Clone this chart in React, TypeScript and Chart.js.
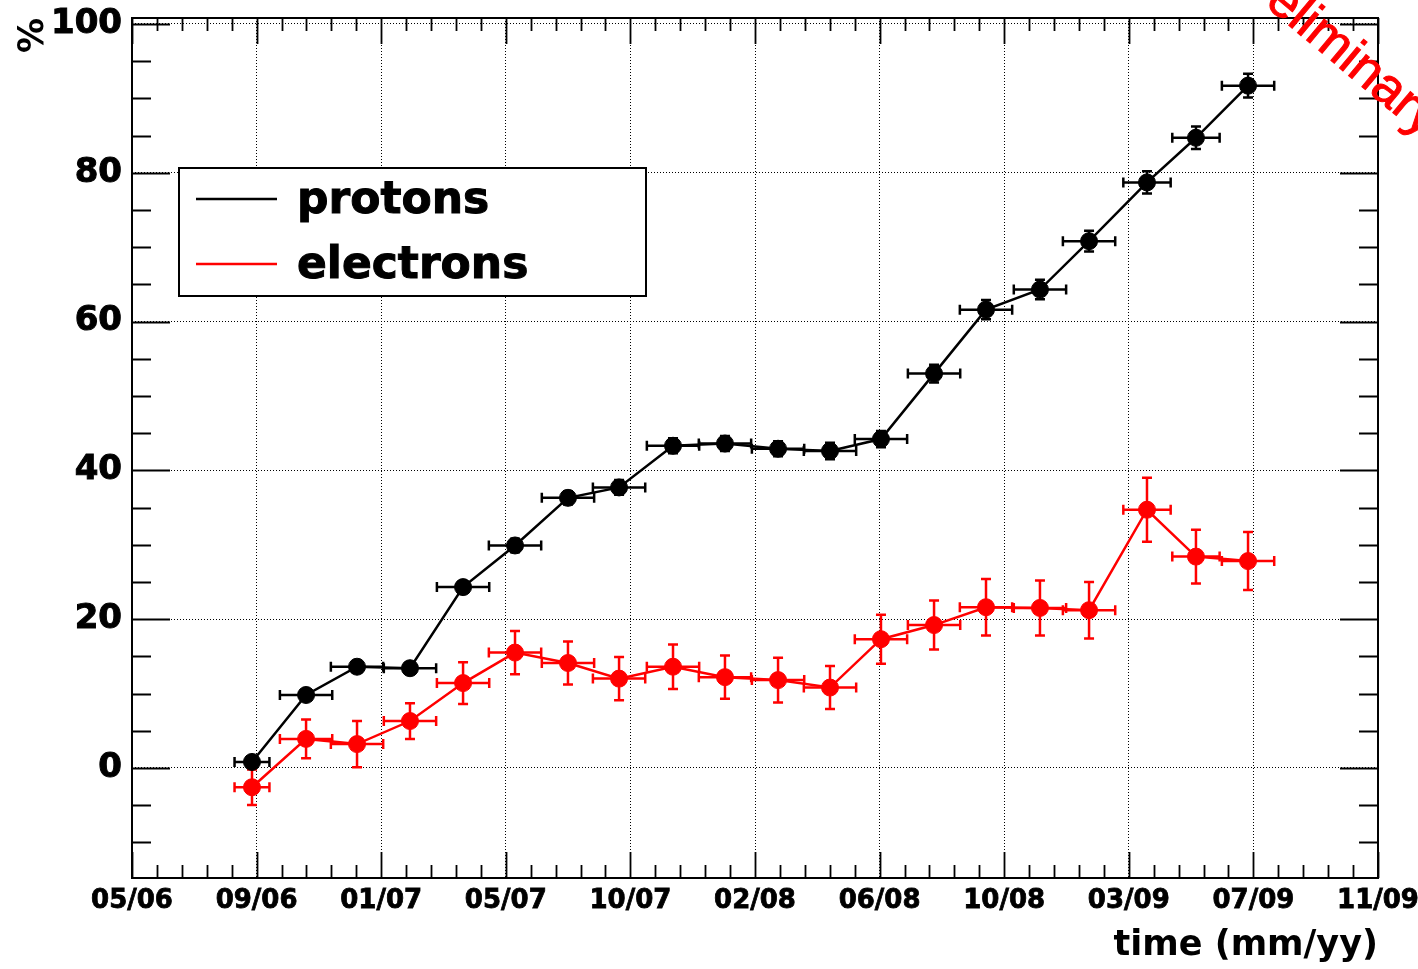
import React, { useEffect, useRef } from "react";
import { Chart, registerables } from "chart.js";

Chart.register(...registerables);

// ---- data ----
const xTickValues = [0, 1, 2, 3, 4, 5, 6, 7, 8, 9, 10];
const xTickLabels = ["05/06", "09/06", "01/07", "05/07", "10/07", "02/08", "06/08", "10/08", "03/09", "07/09", "11/09"];
const yTickValues = [0, 20, 40, 60, 80, 100];

// time position of each measurement (in axis-division units) and its half width
const timePos = [0.963, 1.397, 1.806, 2.231, 2.657, 3.074, 3.499, 3.909, 4.342, 4.759, 5.185, 5.602, 6.011, 6.437, 6.854, 7.287, 7.681, 8.146, 8.539, 8.957];
const timeErr = [0.14, 0.21, 0.21, 0.21, 0.21, 0.21, 0.21, 0.21, 0.21, 0.21, 0.21, 0.21, 0.21, 0.21, 0.21, 0.21, 0.21, 0.19, 0.19, 0.21];

const protons = [0.8, 9.8, 13.6, 13.4, 24.3, 29.9, 36.3, 37.7, 43.3, 43.6, 42.9, 42.6, 44.2, 53.0, 61.6, 64.3, 70.8, 78.7, 84.7, 91.7];
const protonsErr = [0.5, 0.6, 0.8, 0.8, 0.8, 0.9, 0.9, 1.0, 1.0, 1.0, 1.0, 1.1, 1.1, 1.2, 1.3, 1.3, 1.4, 1.5, 1.5, 1.6];

const electrons = [-2.6, 3.9, 3.2, 6.3, 11.4, 15.5, 14.1, 12.0, 13.6, 12.2, 11.8, 10.8, 17.3, 19.2, 21.6, 21.5, 21.2, 34.7, 28.4, 27.8];
const electronsErr = [2.4, 2.6, 3.1, 2.4, 2.8, 2.9, 2.9, 2.9, 3.0, 2.9, 3.0, 2.9, 3.3, 3.3, 3.8, 3.7, 3.8, 4.3, 3.6, 3.9];

const seriesNames = ["protons", "electrons"];
const seriesColors = ["#000000", "#ff0000"];

const FONT = "DejaVu Sans";

function makePoints(ys: number[], yErr: number[]) {
  return ys.map((y, i) => ({ x: timePos[i], y, xErr: timeErr[i], yErr: yErr[i] }));
}

const rootPlugin = {
  id: "rootStyle",
  beforeDatasetsDraw(chart: any) {
    const ctx = chart.ctx as CanvasRenderingContext2D;
    const area = chart.chartArea;
    const xs = chart.scales.x;
    const ys = chart.scales.y;

    // legend box (inside plot)
    const lx = area.left + 47;
    const ly = area.top + 150;
    const lw = 467;
    const lh = 128;
    ctx.save();
    ctx.fillStyle = "#ffffff";
    ctx.fillRect(lx, ly, lw, lh);
    ctx.lineWidth = 2;
    ctx.strokeStyle = "#000000";
    ctx.strokeRect(lx, ly, lw, lh);
    chart.data.datasets.forEach((ds: any, i: number) => {
      const rowY = ly + 31 + i * 65;
      ctx.strokeStyle = ds.borderColor;
      ctx.lineWidth = 2.5;
      ctx.beginPath();
      ctx.moveTo(lx + 17, rowY);
      ctx.lineTo(lx + 98, rowY);
      ctx.stroke();
      ctx.fillStyle = "#000000";
      ctx.strokeStyle = "#000000";
      ctx.lineWidth = 1;
      ctx.font = `bold 44px "${FONT}"`;
      ctx.textAlign = "left";
      ctx.textBaseline = "alphabetic";
      ctx.fillText(ds.label, lx + 118, rowY + 14);
      ctx.strokeText(ds.label, lx + 118, rowY + 14);
    });
    ctx.restore();

    // error bars
    chart.data.datasets.forEach((ds: any) => {
      ctx.save();
      ctx.strokeStyle = ds.borderColor;
      ctx.lineWidth = 2.5;
      const cap = 5;
      ds.data.forEach((p: any) => {
        const px = xs.getPixelForValue(p.x);
        const py = ys.getPixelForValue(p.y);
        const x0 = xs.getPixelForValue(p.x - p.xErr);
        const x1 = xs.getPixelForValue(p.x + p.xErr);
        const y0 = ys.getPixelForValue(p.y - p.yErr);
        const y1 = ys.getPixelForValue(p.y + p.yErr);
        ctx.beginPath();
        ctx.moveTo(x0, py);
        ctx.lineTo(x1, py);
        ctx.moveTo(x0, py - cap);
        ctx.lineTo(x0, py + cap);
        ctx.moveTo(x1, py - cap);
        ctx.lineTo(x1, py + cap);
        ctx.moveTo(px, y0);
        ctx.lineTo(px, y1);
        ctx.moveTo(px - cap, y0);
        ctx.lineTo(px + cap, y0);
        ctx.moveTo(px - cap, y1);
        ctx.lineTo(px + cap, y1);
        ctx.stroke();
      });
      ctx.restore();
    });
  },
  afterDraw(chart: any) {
    const ctx = chart.ctx as CanvasRenderingContext2D;
    const area = chart.chartArea;
    const xs = chart.scales.x;
    const ys = chart.scales.y;
    ctx.save();
    ctx.strokeStyle = "#000000";
    ctx.lineWidth = 1.8;
    ctx.beginPath();
    // x ticks (bottom and top), inward
    for (let i = 0; i < xTickValues.length; i++) {
      const v = xTickValues[i];
      const px = Math.round(xs.getPixelForValue(v)) + 0.5;
      ctx.moveTo(px, area.bottom);
      ctx.lineTo(px, area.bottom - 26);
      ctx.moveTo(px, area.top);
      ctx.lineTo(px, area.top + 26);
      if (i < xTickValues.length - 1) {
        for (let k = 1; k < 5; k++) {
          const mv = v + (k * (xTickValues[i + 1] - v)) / 5;
          const mx = Math.round(xs.getPixelForValue(mv)) + 0.5;
          ctx.moveTo(mx, area.bottom);
          ctx.lineTo(mx, area.bottom - 13);
          ctx.moveTo(mx, area.top);
          ctx.lineTo(mx, area.top + 13);
        }
      }
    }
    // y ticks (left and right), inward
    const yMajorStep = yTickValues[1] - yTickValues[0];
    const yMinorStep = yMajorStep / 4;
    for (let v = yTickValues[0] - yMajorStep; v <= ys.max + 0.001; v += yMinorStep) {
      if (v < ys.min) continue;
      const isMajor = Math.abs(v / yMajorStep - Math.round(v / yMajorStep)) < 1e-6;
      const len = isMajor ? 38 : 19;
      const py = Math.round(ys.getPixelForValue(v)) + 0.5;
      ctx.moveTo(area.left, py);
      ctx.lineTo(area.left + len, py);
      ctx.moveTo(area.right, py);
      ctx.lineTo(area.right - len, py);
    }
    ctx.stroke();
    // frame
    ctx.lineWidth = 2;
    ctx.strokeRect(area.left, area.top, area.right - area.left, area.bottom - area.top);
    ctx.restore();

    // Preliminary stamp
    ctx.save();
    ctx.translate(area.right - 154, area.top - 47);
    ctx.rotate((40 * Math.PI) / 180);
    ctx.fillStyle = "#ff0000";
    ctx.strokeStyle = "#ff0000";
    ctx.lineWidth = 1;
    ctx.font = `52px "Liberation Sans"`;
    ctx.textAlign = "left";
    ctx.textBaseline = "alphabetic";
    ctx.fillText("Preliminary", 0, 0);
    ctx.strokeText("Preliminary", 0, 0);
    ctx.restore();
  },
};

export default function App() {
  const canvasRef = useRef<HTMLCanvasElement | null>(null);

  useEffect(() => {
    const canvas = canvasRef.current;
    if (!canvas) return;
    const chart = new Chart(canvas, {
      type: "scatter",
      data: {
        datasets: [
          {
            label: seriesNames[0],
            data: makePoints(protons, protonsErr),
            showLine: true,
            borderColor: seriesColors[0],
            backgroundColor: seriesColors[0],
            borderWidth: 2.5,
            pointRadius: 8.5,
            pointBorderWidth: 1,
            pointBackgroundColor: seriesColors[0],
            pointBorderColor: seriesColors[0],
            tension: 0,
          },
          {
            label: seriesNames[1],
            data: makePoints(electrons, electronsErr),
            showLine: true,
            borderColor: seriesColors[1],
            backgroundColor: seriesColors[1],
            borderWidth: 2.5,
            pointRadius: 8.5,
            pointBorderWidth: 1,
            pointBackgroundColor: seriesColors[1],
            pointBorderColor: seriesColors[1],
            tension: 0,
          },
        ],
      },
      options: {
        animation: false,
        responsive: false,
        maintainAspectRatio: false,
        layout: { padding: { top: 18, right: 40, left: 0, bottom: 0 } },
        plugins: {
          legend: { display: false },
          tooltip: { enabled: false },
        },
        scales: {
          x: {
            type: "linear",
            min: 0,
            max: 10,
            afterBuildTicks: (s: any) => {
              s.ticks = xTickValues.map((v) => ({ value: v }));
            },
            afterFit: (s: any) => {
              s.height = 91;
              s.paddingLeft = 0;
              s.paddingRight = 0;
            },
            ticks: {
              autoSkip: false,
              maxRotation: 0,
              minRotation: 0,
              padding: 8,
              color: "#000000",
              textStrokeColor: "#000000",
              textStrokeWidth: 0.8,
              font: { family: FONT, weight: "bold", size: 26 },
              callback: (_v: any, i: number) => xTickLabels[i],
            },
            grid: { color: "#000000", lineWidth: 1, drawTicks: false },
            border: { display: false, dash: [1, 2] },
            title: {
              display: true,
              text: "time (mm/yy)",
              align: "end",
              color: "#000000",
              font: { family: FONT, weight: "bold", size: 35 },
              padding: { top: 0, bottom: 2 },
            },
          },
          y: {
            type: "linear",
            min: -14.8,
            max: 100.8,
            afterBuildTicks: (s: any) => {
              s.ticks = yTickValues.map((v) => ({ value: v }));
            },
            afterFit: (s: any) => {
              s.width = 132;
              s.paddingTop = 0;
              s.paddingBottom = 0;
            },
            ticks: {
              padding: 10,
              color: "#000000",
              textStrokeColor: "#000000",
              textStrokeWidth: 1,
              font: { family: FONT, weight: "bold", size: 34 },
            },
            grid: { color: "#000000", lineWidth: 1, drawTicks: false },
            border: { display: false, dash: [1, 2] },
            title: {
              display: true,
              text: "%",
              align: "end",
              color: "#000000",
              font: { family: FONT, weight: "bold", size: 35 },
              padding: { top: 13, bottom: 0 },
            },
          },
        },
      },
      plugins: [rootPlugin],
    } as any);
    return () => chart.destroy();
  }, []);

  return (
    <div style={{ position: "fixed", left: 0, top: 0, width: 1418, height: 969, background: "#ffffff" }}>
      <canvas ref={canvasRef} width={1418} height={969} style={{ display: "block", width: 1418, height: 969 }} />
    </div>
  );
}
